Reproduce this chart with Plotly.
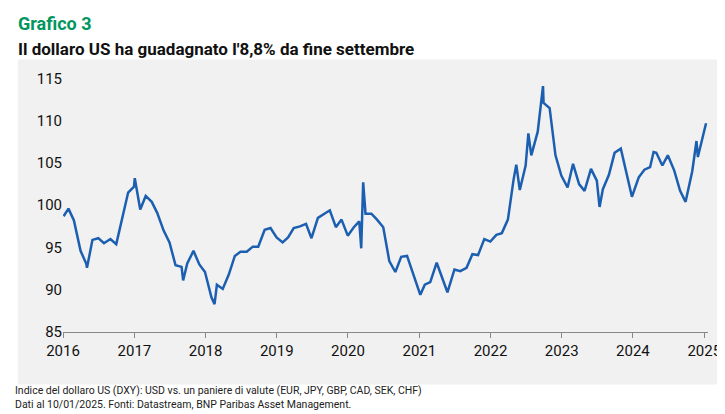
import plotly.graph_objects as go

# DXY, approximate values
dates = [
    "2016-01-04", "2016-01-29", "2016-02-26", "2016-03-31", "2016-04-29", "2016-05-03", "2016-05-31", "2016-06-30",
    "2016-07-29", "2016-08-31", "2016-09-30", "2016-10-31", "2016-11-30", "2016-12-30",
    "2017-01-03", "2017-01-31", "2017-02-28", "2017-03-31", "2017-04-28", "2017-05-31", "2017-06-30",
    "2017-07-31", "2017-08-31", "2017-09-08", "2017-09-29", "2017-10-31", "2017-11-30", "2017-12-29",
    "2018-01-31", "2018-02-16", "2018-02-28", "2018-03-30", "2018-04-30", "2018-05-31", "2018-06-29",
    "2018-07-31", "2018-08-31", "2018-09-28", "2018-10-31", "2018-11-30", "2018-12-31",
    "2019-01-31", "2019-02-28", "2019-03-29", "2019-04-30", "2019-05-31", "2019-06-28",
    "2019-07-31", "2019-08-30", "2019-09-30", "2019-10-31", "2019-11-29", "2019-12-31",
    "2020-01-31", "2020-02-28", "2020-03-09", "2020-03-19", "2020-03-31", "2020-04-30", "2020-05-29", "2020-06-30",
    "2020-07-31", "2020-08-31", "2020-09-30", "2020-10-30", "2020-11-30", "2020-12-31",
    "2021-01-06", "2021-01-29", "2021-02-26", "2021-03-31", "2021-04-30", "2021-05-25", "2021-06-30",
    "2021-07-30", "2021-08-31", "2021-09-30", "2021-10-29", "2021-11-30", "2021-12-31",
    "2022-01-31", "2022-02-28", "2022-03-31", "2022-04-29", "2022-05-13", "2022-05-31", "2022-06-30",
    "2022-07-14", "2022-07-29", "2022-08-31", "2022-09-27", "2022-09-30", "2022-10-31", "2022-11-30", "2022-12-30",
    "2023-01-31", "2023-02-28", "2023-03-31", "2023-04-28", "2023-05-31", "2023-06-30",
    "2023-07-14", "2023-07-31", "2023-08-31", "2023-09-29", "2023-10-31", "2023-11-30", "2023-12-27",
    "2024-01-31", "2024-02-29", "2024-03-29", "2024-04-16", "2024-04-30", "2024-05-31", "2024-06-28",
    "2024-07-31", "2024-08-30", "2024-09-27", "2024-10-31", "2024-11-22", "2024-11-29", "2024-12-31",
    "2025-01-10",
]
dxy = [
    98.7, 99.6, 98.2, 94.6, 93.1, 92.6, 95.9, 96.1,
    95.5, 96.0, 95.4, 98.5, 101.5, 102.2,
    103.2, 99.5, 101.1, 100.4, 99.1, 97.0, 95.6,
    92.9, 92.7, 91.1, 93.1, 94.6, 93.0, 92.1,
    89.1, 88.3, 90.6, 90.1, 91.8, 94.0, 94.5,
    94.5, 95.1, 95.1, 97.1, 97.3, 96.2,
    95.6, 96.2, 97.3, 97.5, 97.8, 96.1,
    98.5, 98.9, 99.4, 97.4, 98.3, 96.4,
    97.4, 98.1, 94.9, 102.7, 99.0, 99.0, 98.3, 97.4,
    93.4, 92.1, 93.9, 94.0, 91.9, 89.9,
    89.4, 90.6, 90.9, 93.2, 91.3, 89.7, 92.4,
    92.2, 92.6, 94.2, 94.1, 96.0, 95.7,
    96.5, 96.7, 98.3, 103.0, 104.8, 101.8, 104.7,
    108.5, 105.9, 108.7, 114.1, 112.1, 111.5, 105.9, 103.5,
    102.1, 104.9, 102.5, 101.7, 104.3, 102.9,
    99.8, 101.9, 103.6, 106.2, 106.7, 103.5, 101.0,
    103.3, 104.2, 104.5, 106.3, 106.2, 104.7, 105.9,
    104.1, 101.7, 100.4, 104.0, 107.6, 105.7, 108.5,
    109.7,
]
years = ["2016", "2017", "2018", "2019", "2020", "2021", "2022", "2023", "2024", "2025"]

fig = go.Figure(go.Scatter(x=dates, y=dxy, mode="lines",
                           line=dict(color="#1c5fb0", width=2.5), hoverinfo="x+y"))

fig.add_shape(type="rect", xref="paper", yref="paper", x0=-0.07, x1=1.015, y0=-0.2, y1=1.04,
              fillcolor="#f1f1f1", line_width=0, layer="below")

fig.update_layout(
    width=725, height=414,
    margin=dict(l=55, r=20, t=62, b=90),
    paper_bgcolor="white", plot_bgcolor="#f1f1f1",
    showlegend=False,
    font=dict(family="Roboto, Arial, sans-serif", color="#111"),
    xaxis=dict(type="date", tickvals=[y + "-01-01" for y in years], ticktext=years,
               range=["2016-01-01", "2025-01-20"], showgrid=False, ticks="outside",
               ticklen=5, tickcolor="#888", showline=True, linecolor="#888",
               tickfont=dict(size=15)),
    yaxis=dict(range=[85, 116], tickvals=[85, 90, 95, 100, 105, 110, 115],
               showgrid=False, zeroline=False, tickfont=dict(size=15)),
    annotations=[
        dict(text="<b>Grafico 3</b>", x=0, y=1.225, xref="paper", yref="paper",
             xanchor="left", yanchor="top", showarrow=False, xshift=-47,
             font=dict(size=18, color="#00965e")),
        dict(text="<b>Il dollaro US ha guadagnato l'8,8% da fine settembre</b>", x=0, y=1.125,
             xref="paper", yref="paper", xanchor="left", yanchor="top", showarrow=False, xshift=-47,
             font=dict(size=17, color="#111")),
        dict(text="Indice del dollaro US (DXY): USD vs. un paniere di valute (EUR, JPY, GBP, CAD, SEK, CHF)<br>"
                  "Dati al 10/01/2025. Fonti: Datastream, BNP Paribas Asset Management.",
             x=0, y=-0.31, xref="paper", yref="paper", xanchor="left", yanchor="bottom",
             showarrow=False, xshift=-50, align="left", font=dict(size=10.5, color="#222")),
    ],
)

fig.write_html("out.html")
